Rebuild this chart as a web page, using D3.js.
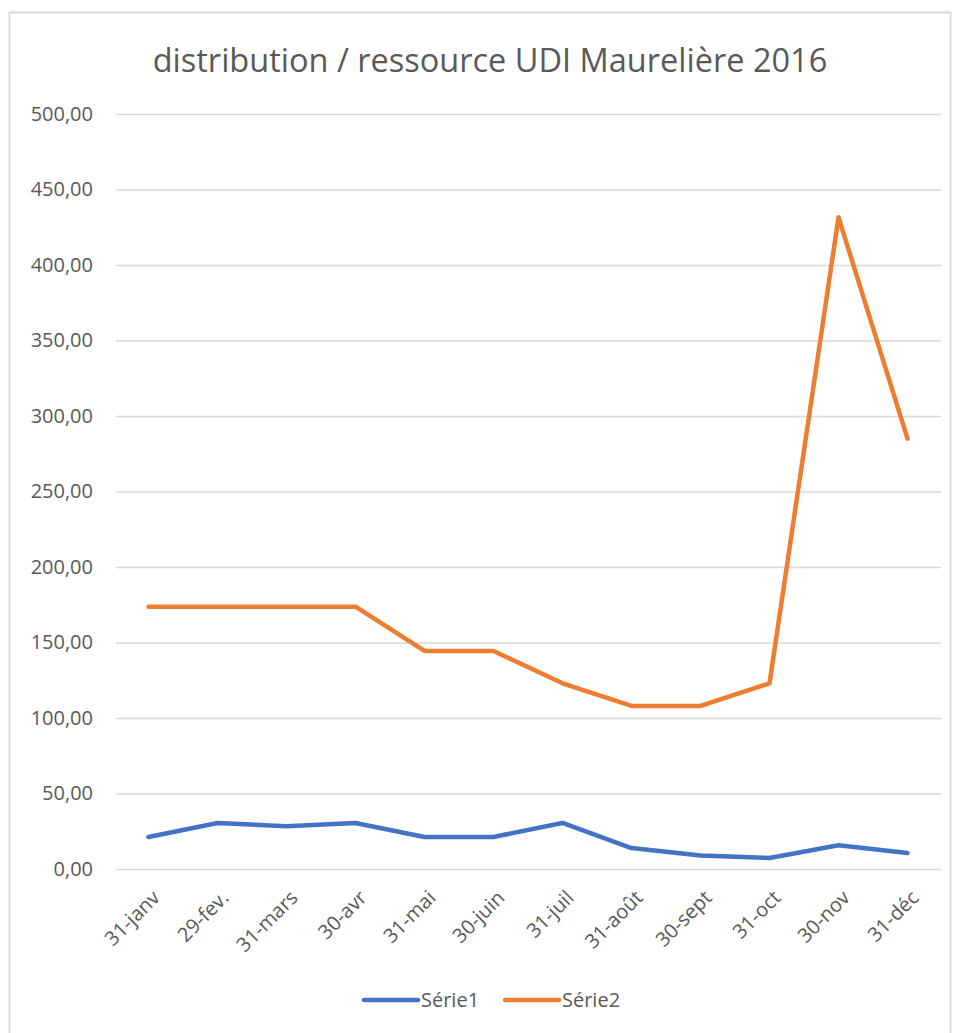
<!DOCTYPE html>
<html>
<head>
<meta charset="utf-8">
<script src="https://cdn.jsdelivr.net/npm/d3@7"></script>
<style>
  body { margin: 0; background: #fff; }
  svg { display: block; font-family: 'Open Sans', sans-serif; }
</style>
</head>
<body>
<div id="chart"></div>
<script>
const categories = ['31-janv', '29-fev.', '31-mars', '30-avr', '31-mai', '30-juin',
  '31-juil', '31-août', '30-sept', '31-oct', '30-nov', '31-déc']
const serie1 = [21.2, 30.5, 28.3, 30.5, 21.2, 21.2, 30.5, 13.9, 9.0, 7.3, 15.7, 10.6]
const serie2 = [173.7, 173.7, 173.7, 173.7, 144.4, 144.4, 123, 108, 108, 122.9, 431.6, 285]
const yTicks = [0, 50, 100, 150, 200, 250, 300, 350, 400, 450, 500]
const seriesNames = ['Série1', 'Série2']
const colors = ['#4472C4', '#ED7D31']

const width = 958
const height = 1033
const margin = { top: 114, right: 16, bottom: 164, left: 114 }

const svg = d3.select('#chart')
  .append('svg')
  .attr('width', width)
  .attr('height', height)

// chart border
svg.append('rect')
  .attr('x', 9.5).attr('y', 12.5)
  .attr('width', 941).attr('height', 1030)
  .attr('fill', 'none')
  .attr('stroke', '#d9d9d9')
  .attr('stroke-width', 2)

svg.append('text')
  .attr('x', 490)
  .attr('y', 72)
  .attr('text-anchor', 'middle')
  .attr('fill', '#595959')
  .style('font-size', '32.5px')
  .text('distribution / ressource UDI Maurelière 2016')

const x = d3.scalePoint()
  .domain(categories)
  .range([margin.left, width - margin.right])
  .padding(0.5)

const y = d3.scaleLinear()
  .domain([0, 500])
  .range([869, margin.top])

// grid + y labels
const yAxis = d3.axisLeft(y)
  .tickValues(yTicks)
  .tickSize(-(941 - 116))
  .tickPadding(23)
  .tickFormat(d => d3.format('.2f')(d).replace('.', ','))

const gy = svg.append('g')
  .attr('transform', `translate(116,0)`)
  .call(yAxis)
gy.select('.domain').remove()
gy.selectAll('.tick line').attr('stroke', '#d9d9d9').attr('stroke-width', 1.5)
gy.selectAll('.tick text')
  .attr('fill', '#595959')
  .style('font-size', '20px')
  .style('font-family', 'Open Sans, sans-serif')

// x labels
const xAxis = d3.axisBottom(x).tickSize(0).tickPadding(0)
const gx = svg.append('g')
  .attr('transform', `translate(0,869)`)
  .call(xAxis)
gx.select('.domain').remove()
gx.selectAll('.tick text')
  .attr('fill', '#595959')
  .style('font-size', '20px')
  .style('font-family', 'Open Sans, sans-serif')
  .attr('text-anchor', 'end')
  .attr('y', 0)
  .attr('dy', null)
  .attr('transform', 'translate(12,30) rotate(-45)')

const line = d3.line()
  .x((d, i) => x(categories[i]))
  .y(d => y(d))

;[serie1, serie2].forEach((s, i) => {
  svg.append('path')
    .datum(s)
    .attr('fill', 'none')
    .attr('stroke', colors[i])
    .attr('stroke-width', 4.5)
    .attr('stroke-linejoin', 'round')
    .attr('stroke-linecap', 'round')
    .attr('d', line)
})

// legend
const legend = svg.append('g')
  .selectAll('g')
  .data(seriesNames)
  .enter()
  .append('g')
  .attr('transform', (d, i) => `translate(${364 + i * 141},1000)`)

legend.append('line')
  .attr('x1', 0).attr('x2', 54)
  .attr('stroke', (d, i) => colors[i])
  .attr('stroke-width', 4.5)
  .attr('stroke-linecap', 'round')

legend.append('text')
  .attr('x', 57)
  .attr('dy', '0.35em')
  .attr('fill', '#595959')
  .style('font-size', '20px')
  .text(d => d)
</script>
</body>
</html>
